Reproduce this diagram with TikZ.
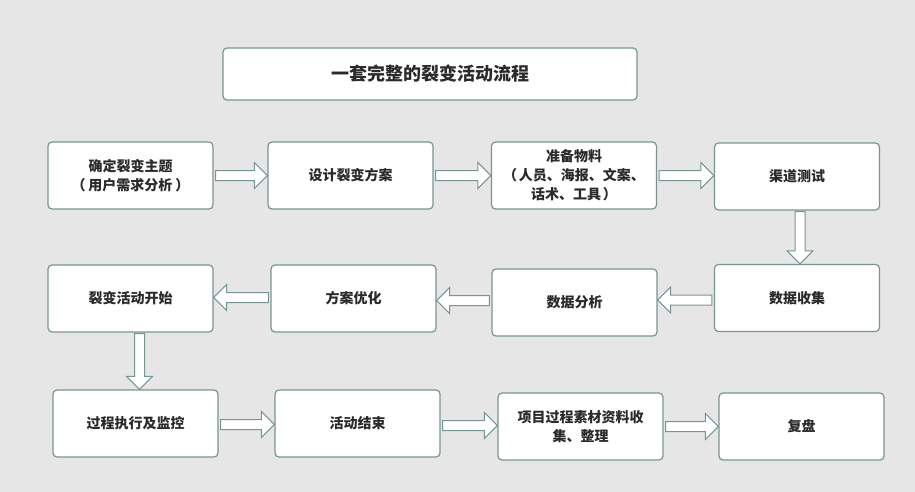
\documentclass[tikz,border=0pt]{standalone}
\usepackage{fontspec}
\newfontfamily\cjk{Noto Sans CJK SC}
\usetikzlibrary{calc}
\definecolor{bgcol}{HTML}{E6E6E6}
\definecolor{bordercol}{HTML}{789593}
\definecolor{textcol}{HTML}{2A2A2A}
\tikzset{
  box/.style={draw=bordercol, line width=1.2pt, fill=white, rounded corners=4pt,
    minimum width=165pt, minimum height=67pt, align=center, inner sep=2pt,
    text=textcol, font=\cjk\bfseries\fontsize{14}{19}\selectfont},
  titlebox/.style={box, minimum width=414pt, minimum height=52pt,
    font=\cjk\bfseries\fontsize{18}{20}\selectfont},
  blockarr/.style={draw=bordercol, line width=1pt, fill=white, line join=miter}
}
\newcommand\blockarrow[2]{%
  \draw[blockarr] let \p1=(#1), \p2=(#2),
    \n1={atan2(\y2-\y1,\x2-\x1)}, \n2={veclen(\x2-\x1,\y2-\y1)} in
    [shift={(\p1)}, rotate=\n1]
    (0,-5) -- (\n2-13,-5) -- (\n2-13,-13) -- (\n2,0) -- (\n2-13,13) -- (\n2-13,5) -- (0,5) -- cycle;}
\begin{document}
\begin{tikzpicture}[x=1pt,y=-1pt]
\fill[bgcol] (0,0) rectangle (915,492);
\useasboundingbox (0,0) rectangle (915,492);
\node[titlebox] (t) at (430,74) {一套完整的裂变活动流程};
% row 1
\node[box] (b1) at (130.5,175.5) {确定裂变主题\\（\hspace{3pt}用户需求分析\hspace{3pt}）};
\node[box] (b2) at (350.5,175.5) {设计裂变方案};
\node[box] (b3) at (574,175.5) {准备物料\\（\hspace{2pt}人员、海报、文案、\\话术、工具\hspace{2pt}）};
\node[box] (b4) at (797,176.5) {渠道测试};
% row 2
\node[box] (b8) at (797,298) {数据收集};
\node[box] (b7) at (574.5,302.5) {数据分析};
\node[box] (b6) at (353.5,298.5) {方案优化};
\node[box] (b5) at (130.5,298.5) {裂变活动开始};
% row 3
\node[box] (c1) at (135.5,423.5) {过程执行及监控};
\node[box] (c2) at (357.5,423.5) {活动结束};
\node[box] (c3) at (580.5,426.5) {项目过程素材资料收\\集、整理};
\node[box] (c4) at (801.5,426.5) {复盘};
% arrows
\blockarrow{$(b1.east)+(2,0)$}{b1.east -| b2.west}
\blockarrow{$(b2.east)+(2,0)$}{b2.east -| b3.west}
\blockarrow{$(b3.east)+(2,0)$}{b3.east -| b4.west}
\blockarrow{$(b4.south)+(3,1)$}{$(b4.south |- b8.north)+(3,0)$}
\blockarrow{$(b8.west)+(-2,2)$}{$(b8.west -| b7.east)+(0,2)$}
\blockarrow{$(b7.west)+(-2,-2)$}{$(b7.west -| b6.east)+(0,-2)$}
\blockarrow{$(b6.west)+(-2,-1)$}{$(b6.west -| b5.east)+(0,-1)$}
\blockarrow{$(b5.south)+(9,1)$}{$(b5.south |- c1.north)+(9,0)$}
\blockarrow{$(c1.east)+(2,1)$}{$(c1.east -| c2.west)+(0,1)$}
\blockarrow{$(c2.east)+(2,2)$}{$(c2.east -| c3.west)+(0,2)$}
\blockarrow{$(c3.east)+(2,0)$}{c3.east -| c4.west}
\end{tikzpicture}
\end{document}
